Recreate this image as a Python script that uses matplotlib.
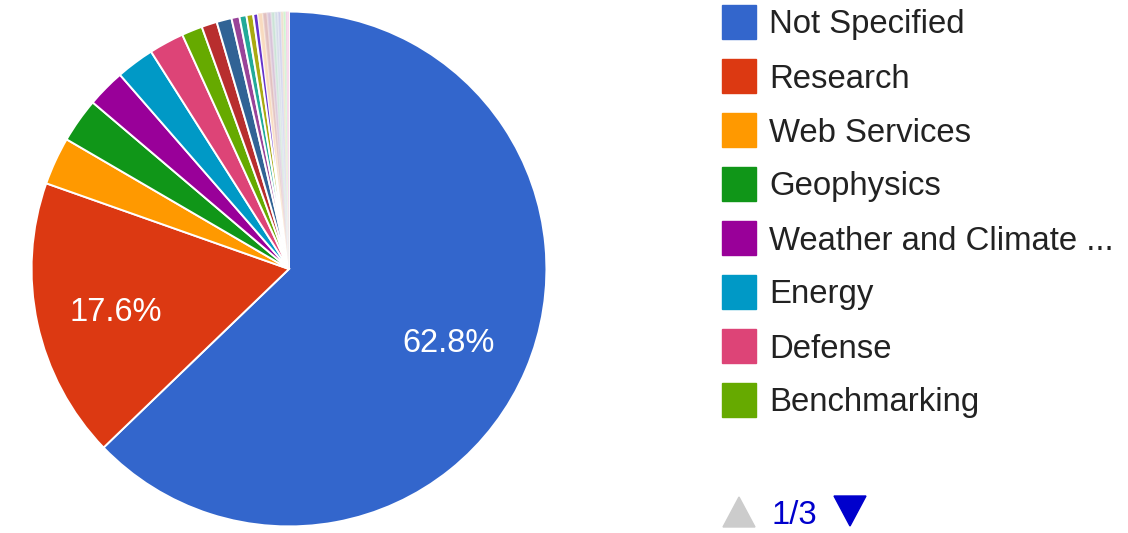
import matplotlib
matplotlib.use("Agg")
import matplotlib.pyplot as plt
from matplotlib.patches import Rectangle, Polygon
from matplotlib.transforms import ScaledTranslation

plt.rcParams['font.family'] = ['Liberation Sans', 'DejaVu Sans']

# Application areas and their share (in %)
areas = ["Not Specified", "Research", "Web Services", "Geophysics",
         "Weather and Climate ...", "Energy", "Defense", "Benchmarking",
         "Finance", "Information Service", "Semiconductor", "Aerospace",
         "Telecomm", "Life Sciences", "Automotive", "Software",
         "Electronics", "Media", "Manufacturing", "Logistics",
         "Digital Media", "Database", "Entertainment", "Retail"]
shares = [62.8, 17.6, 3.0, 2.8, 2.4, 2.4, 2.2, 1.3,
          0.97, 0.94, 0.5, 0.44, 0.42, 0.3,
          0.3, 0.28, 0.25, 0.22, 0.2, 0.18, 0.16, 0.14, 0.12, 0.08]
colors = ["#3366cc", "#dc3912", "#ff9900", "#109618", "#990099", "#0099c6",
          "#dd4477", "#66aa00", "#b82e2e", "#316395", "#994499", "#22aa99",
          "#aaaa11", "#6633cc", "#e67300", "#8b0707", "#651067", "#329262",
          "#5574a6", "#3b3eac", "#b77322", "#16d620", "#b91383", "#f4359e"]
page_text = "1/3"
n_legend = 8

W, H = 1128, 533
fig = plt.figure(figsize=(W / 100, H / 100), dpi=100)

# pie: center at (289, 269) px, radius 260 px
cx, cy, r = 289, 269, 260
ax = fig.add_axes([(cx - r) / W, (H - cy - r) / H, 2 * r / W, 2 * r / H])
wedges, texts, autotexts = ax.pie(
    shares, colors=colors, startangle=90, counterclock=False,
    autopct=lambda p: '%.1f%%' % p if p > 5 else '',
    pctdistance=0.68, radius=1.0,
    wedgeprops=dict(edgecolor='white', linewidth=1.4),
    textprops=dict(color='white', fontsize=23.5))
# the very thin slices come out almost washed out in the original
for w in wedges[14:]:
    w.set_alpha(0.25)
    w.set_edgecolor('white')
# nudge the percentage labels down a little
for t in autotexts:
    t.set_transform(t.get_transform() +
                    ScaledTranslation(-2 / 100, -6 / 100, fig.dpi_scale_trans))
ax.set_xlim(-1.01, 1.01)
ax.set_ylim(-1.01, 1.01)
ax.set_aspect('equal')
ax.axis('off')

# legend drawn in pixel coordinates
lax = fig.add_axes([0, 0, 1, 1])
lax.set_xlim(0, W)
lax.set_ylim(H, 0)
lax.axis('off')
for i in range(n_legend):
    y = 22 + 54 * i
    lax.add_patch(Rectangle((722, y - 17), 34, 34, color=colors[i]))
    lax.text(769, y + 3, areas[i], fontsize=23.7, color='#222222',
             va='center', ha='left')

# pager
lax.add_patch(Polygon([(723, 527), (755, 527), (739, 497)], closed=True,
                      color='#cccccc'))
lax.text(772, 516, page_text, fontsize=23.7, color='#0000cc',
         va='center', ha='left')
lax.add_patch(Polygon([(834, 496), (866, 496), (850, 526)], closed=True,
                      color='#0000cc'))

fig.savefig("out.png", dpi=100)
